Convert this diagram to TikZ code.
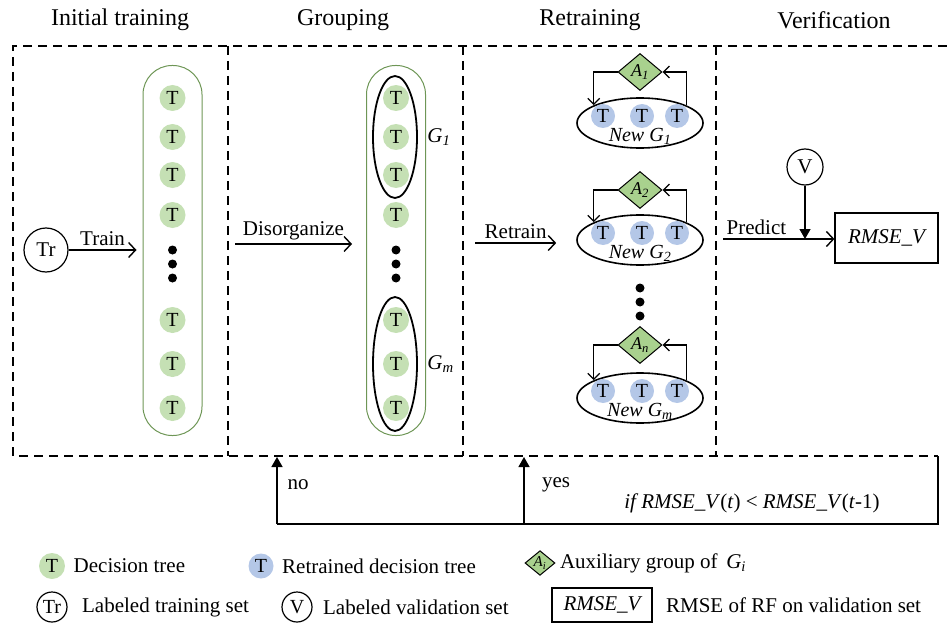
\documentclass[tikz,border=0pt]{standalone}
\usepackage{fontspec}
\setmainfont{Liberation Serif}
\usetikzlibrary{positioning,shapes.geometric,arrows.meta}

\definecolor{treegreen}{HTML}{C5E0B4}
\definecolor{treeblue}{HTML}{B4C7E7}
\definecolor{auxgreen}{HTML}{A9D18E}
\definecolor{colgreen}{HTML}{6E9656}

\begin{document}
\begin{tikzpicture}
[x=1pt, y=-1pt, node distance=6pt,
 every node/.style={font=\fontsize{21}{24}\selectfont},
 title/.style={font=\fontsize{24}{28}\selectfont},
 panel/.style={dash pattern=on 9pt off 6pt, line width=1.4pt},
 dtree/.style={circle, fill=treegreen, inner sep=0pt, minimum size=26pt, font=\fontsize{20}{20}\selectfont},
 rtree/.style={dtree, fill=treeblue, minimum size=24pt},
 dot/.style={circle, fill=black, inner sep=0pt, minimum size=9pt},
 treecol/.style={draw=colgreen, line width=1pt, rounded corners=29pt, minimum width=59pt, minimum height=370pt},
 grp/.style={ellipse, draw, line width=1.8pt, inner sep=0pt, minimum width=44pt},
 newgrp/.style={ellipse, draw, line width=1.6pt, inner sep=0pt, minimum width=126pt, minimum height=50pt},
 aux/.style={diamond, draw, fill=auxgreen, line width=1pt, inner sep=0pt, minimum width=44pt, minimum height=37pt, font=\fontsize{18}{18}\selectfont\itshape},
 dataset/.style={circle, draw, line width=1.2pt, inner sep=0pt},
 rmsebox/.style={draw, line width=1.2pt, font=\fontsize{21}{24}\selectfont\itshape},
 open/.style={line width=1.4pt, -{Straight Barb[length=7pt, width=15pt]}},
 feedback/.style={line width=1.3pt, -{Straight Barb[length=6pt, width=12pt]}},
 solid arrow/.style={line width=1.4pt, -{Triangle[length=10pt, width=11pt]}}]

\useasboundingbox (0,0) rectangle (947,623);

% titles
\node[title] (h1) at (120,20) {Initial training};
\node[title] (h2) at (343,20) {Grouping};
\node[title] (h3) at (590,20) {Retraining};
\node[title] (h4) at (834,20) {Verification};

% dashed panels
\draw[panel] (947,46) -- (13,46) -- (13,456) -- (938,456);
\draw[panel] (228,46) -- (228,456);
\draw[panel] (463,46) -- (463,456);
\draw[panel] (716,46) -- (716,456);

% initial training
\node[dataset, minimum size=44pt] (tr) at (46,250) {Tr};
\node[treecol] (c1) at (172.5,250.5) {};
\foreach \y [count=\i] in {98,137,175,215,320,364,408}
  \node[dtree] (t\i) at (172.5,\y) {T};
\foreach \y [count=\i] in {250,264,278}
  \node[dot] (d\i) at (172.5,\y) {};
\draw[open] (tr) -- node[above] (train) {Train} ([xshift=-6pt]c1.west |- tr);

% grouping
\node[treecol] (c2) at (396,250.5) {};
\foreach \y [count=\i] in {98,137,175,215,320,364,408}
  \node[dtree] (u\i) at (396,\y) {T};
\foreach \y [count=\i] in {250,264,278}
  \node[dot] (e\i) at (396,\y) {};
\node[grp, minimum height=122pt] (g1) at (395,137) {};
\node[grp, minimum height=134pt] (gm) at (395,364) {};
\node[right=of g1, font=\fontsize{21}{24}\selectfont\itshape] (g1l) {G\textsubscript{1}};
\node[right=of gm, font=\fontsize{21}{24}\selectfont\itshape] (gml) {G\textsubscript{m}};
\coordinate (dz0) at (235,244);
\draw[open] (dz0) -- node[above] (disorg) {Disorganize} ([xshift=-14pt]c2.west |- dz0);

% retraining
\foreach \ya/\yg/\a/\g [count=\k] in {72/123/1/1, 190/240/2/2, 345/398/n/m} {
  \node[aux] (a\k) at (640,\ya) {A\textsubscript{\a}};
  \node[newgrp] (ng\k) at (640,\yg) {};
  \foreach \dx [count=\j] in {-37,2,37}
    \node[rtree] (r\k\j) at (640+\dx,\yg-7) {T};
  \node[font=\fontsize{20}{22}\selectfont\itshape] (nl\k) at (640,\yg+13) {New G\textsubscript{\g}};
  \draw[feedback] (a\k.west) -| (ng\k.159);
  \draw[feedback] (ng\k.21) |- (a\k.east);
}
\foreach \y [count=\i] in {288,302,316}
  \node[dot] (f\i) at (640,\y) {};
\coordinate (rt0) at (475,243);
\draw[open] (rt0) -- node[above] (retrain) {Retrain} ([xshift=-20pt]ng2.west |- rt0);

% verification
\node[rmsebox, minimum width=103pt, minimum height=50pt] (rmse) at (886.5,238) {RMSE\_V};
\node[dataset, minimum size=36pt] (v) at (805,167) {V};
\coordinate (pr0) at (723,239);
\coordinate (vhit) at (v |- pr0);
\draw[open] (pr0) -- node[above, pos=0.3] (predict) {Predict} (rmse.west |- pr0);
\draw[solid arrow] (v) -- (vhit);

% feedback loop
\coordinate (fb0) at (938,456);
\coordinate (fb1) at (938,524);
\coordinate (no0) at (277,524);
\coordinate (no1) at (277,457);
\coordinate (yes0) at (524,524);
\coordinate (yes1) at (524,457);
\draw[line width=1.4pt] (fb0) -- (fb1) -- (no0);
\draw[solid arrow] (no0) -- (no1);
\draw[solid arrow] (yes0) -- (yes1);
\node (no) at (298,485) {no};
\node (yes) at (556,485) {yes};
\node (cond) at (752,503) {\textit{if RMSE\_V}(\textit{t}) < \textit{RMSE\_V}(\textit{t}-1)};

% legend
\node[dtree] (k1) at (52,566) {T};
\node[right=5pt of k1] (k1t) {Decision tree};
\node[rtree, minimum size=25pt] (k2) at (261,566) {T};
\node[right=5pt of k2] (k2t) {Retrained decision tree};
\node[aux, minimum width=30pt, minimum height=24pt, font=\fontsize{15}{15}\selectfont\itshape] (k3) at (540,563) {A\textsubscript{i}};
\node[right=1pt of k3] (k3t) {Auxiliary group of \,\textit{G\textsubscript{i}}};
\node[dataset, minimum size=30pt, font=\fontsize{20}{20}\selectfont] (k4) at (52,607) {Tr};
\node[right=11pt of k4] (k4t) {Labeled training set};
\node[dataset, minimum size=30pt, font=\fontsize{20}{20}\selectfont] (k5) at (297,607) {V};
\node[right=7pt of k5] (k5t) {Labeled validation set};
\node[rmsebox, minimum width=100pt, minimum height=34pt] (k6) at (602,605) {RMSE\_V};
\node[right=10pt of k6] (k6t) {RMSE of RF on validation set};

\end{tikzpicture}
\end{document}
